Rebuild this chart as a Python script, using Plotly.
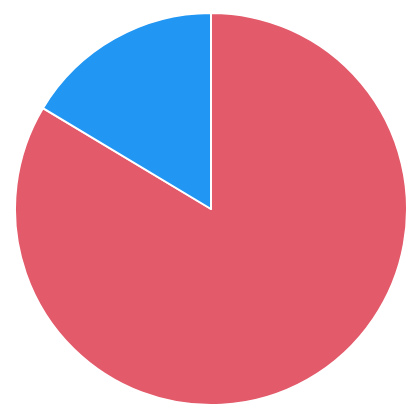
import plotly.graph_objects as go

labels = ["A", "B"]
values = [83.6, 16.4]
colors = ["#E35A6A", "#2196F3"]

W, H = 420, 413
cx, cy, r = 203, 201, 196

fig = go.Figure(go.Pie(
    labels=labels,
    values=values,
    sort=False,
    direction="clockwise",
    rotation=0,
    marker=dict(colors=colors, line=dict(color="white", width=2)),
    textinfo="none",
    hoverinfo="label+value",
    domain=dict(x=[(cx - r) / W, (cx + r) / W],
                y=[(H - cy - r) / H, (H - cy + r) / H]),
))
fig.update_layout(
    width=W, height=H,
    margin=dict(l=0, r=0, t=0, b=0),
    showlegend=False,
    paper_bgcolor="white",
    plot_bgcolor="white",
)
fig.write_html("out.html")
